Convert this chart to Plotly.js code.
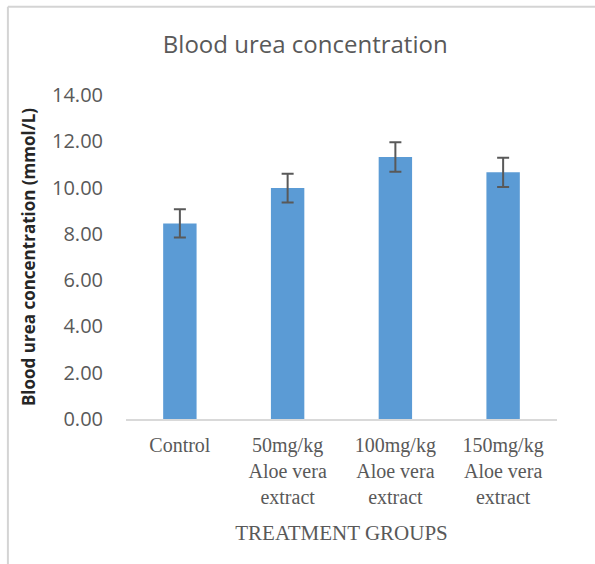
<!DOCTYPE html>
<html>
<head>
<meta charset="utf-8">
<script src="https://cdn.plot.ly/plotly-3.0.1.min.js"></script>
<style>
html,body{margin:0;padding:0;background:#fff;}
#chart{width:595px;height:564px;}
</style>
</head>
<body>
<div id="chart"></div>
<script>
const categories = ["Control", "50mg/kg<br>Aloe vera<br>extract", "100mg/kg<br>Aloe vera<br>extract", "150mg/kg<br>Aloe vera<br>extract"];
const ureaValues = [8.45, 9.98, 11.32, 10.66];
const ureaErrors = [0.61, 0.62, 0.64, 0.63];
const yTickValues = [0, 2, 4, 6, 8, 10, 12, 14];
const yTickLabels = ["0.00", "2.00", "4.00", "6.00", "8.00", "10.00", "12.00", "14.00"];

const trace = {
  type: 'bar',
  x: categories,
  y: ureaValues,
  marker: {color: '#5b9bd5'},
  error_y: {type: 'data', array: ureaErrors, visible: true, color: '#595959', thickness: 2, width: 6},
  hoverinfo: 'none'
};

const layout = {
  width: 595, height: 564,
  margin: {l: 126, r: 38, t: 95, b: 145},
  paper_bgcolor: '#fff', plot_bgcolor: '#fff',
  bargap: 0.69,
  showlegend: false,
  title: {text: 'Blood urea concentration', font: {family: 'Open Sans', size: 24, color: '#595959'}, x: 0.513, xanchor: 'center', y: 0.921, yanchor: 'middle'},
  xaxis: {
    type: 'category',
    showgrid: false, zeroline: false,
    showline: true, linecolor: '#d9d9d9', linewidth: 2,
    ticks: '', ticklabelstandoff: 7,
    tickfont: {family: 'Liberation Serif', size: 20, color: '#595959'},
    title: {text: 'TREATMENT GROUPS', font: {family: 'Liberation Serif', size: 21, color: '#595959'}, standoff: 18}
  },
  yaxis: {
    range: [0, 14],
    tickvals: yTickValues, ticktext: yTickLabels,
    showgrid: false, zeroline: false, showline: false,
    ticks: '', ticklabelstandoff: 22,
    tickfont: {family: 'Open Sans', size: 20, color: '#595959'},
    title: {text: '<b>Blood urea concentration (mmol/L)</b>', font: {family: 'Open Sans', size: 17, color: '#262626'}, standoff: 12}
  },
  shapes: [
    {type: 'line', xref: 'paper', yref: 'paper', x0: -0.274, x1: 1.2, y0: 1.272, y1: 1.272, line: {color: '#d4d4d4', width: 2}},
    {type: 'line', xref: 'paper', yref: 'paper', x0: -0.274, x1: -0.274, y0: -0.5, y1: 1.272, line: {color: '#d4d4d4', width: 2}}
  ]
};

Plotly.newPlot('chart', [trace], layout, {displayModeBar: false, staticPlot: true});
</script>
</body>
</html>
